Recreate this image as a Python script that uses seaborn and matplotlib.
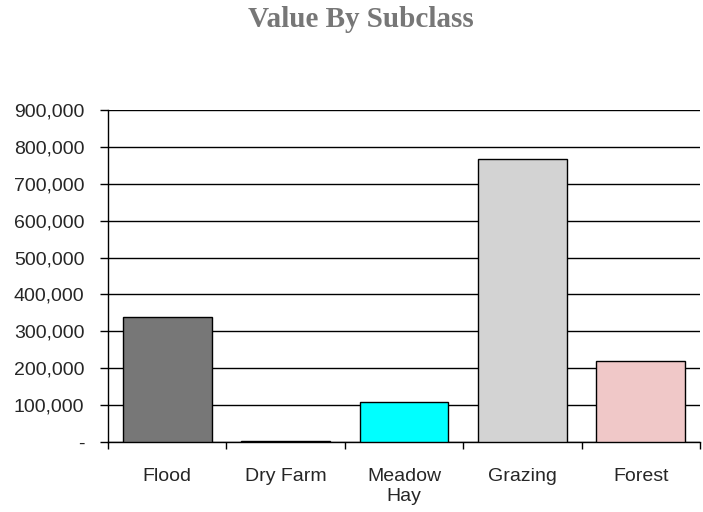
import numpy as np
import pandas as pd
import matplotlib.pyplot as plt
import seaborn as sns
from matplotlib.ticker import FuncFormatter

subclasses = ["Flood", "Dry Farm", "Meadow\nHay", "Grazing", "Forest"]
values = [339000, 2500, 108000, 767000, 219000]
bar_colors = ["#777777", "#222222", "#00FFFF", "#D3D3D3", "#F0C8C8"]
y_ticks = [0, 100000, 200000, 300000, 400000, 500000, 600000, 700000, 800000, 900000]

df = pd.DataFrame({"subclass": subclasses, "value": values})

sns.set_style("white")
plt.rcParams["font.family"] = ["Liberation Sans", "DejaVu Sans"]

fig = plt.figure(figsize=(7.03, 5.12), dpi=100)
ax = fig.add_axes([0.1536, 0.1367, 0.8421, 0.6484])

sns.barplot(data=df, x="subclass", y="value", hue="subclass", palette=bar_colors,
            legend=False, width=0.75, edgecolor="black", linewidth=1.0, saturation=1,
            ax=ax, zorder=3)

ax.set_ylim(0, 900000)
ax.set_xlim(-0.5, len(subclasses) - 0.5)
ax.set_yticks(y_ticks)
ax.yaxis.set_major_formatter(FuncFormatter(lambda v, p: "-" if v == 0 else f"{v:,.0f}"))
ax.grid(axis="y", color="black", linewidth=1.0, zorder=0)
ax.set_axisbelow(True)

for side in ["top", "right"]:
    ax.spines[side].set_visible(False)
for side in ["left", "bottom"]:
    ax.spines[side].set_color("black")
    ax.spines[side].set_linewidth(1.0)

ax.tick_params(axis="y", direction="out", length=6, width=1, color="black",
               labelsize=14, pad=11, left=True)
ax.set_xticks(np.arange(-0.5, len(subclasses), 1.0), minor=True)
ax.tick_params(axis="x", which="minor", direction="out", length=5, width=1, color="black", bottom=True)
ax.tick_params(axis="x", which="major", length=0, labelsize=14, pad=19)

ax.set_xlabel("")
ax.set_ylabel("")

fig.text(0.513, 0.962, "Value By Subclass", ha="center", va="center",
         fontsize=21, fontweight="bold", color="#777777",
         family=["Liberation Serif", "DejaVu Serif"])

plt.savefig("out.png", dpi=100)
plt.close()
